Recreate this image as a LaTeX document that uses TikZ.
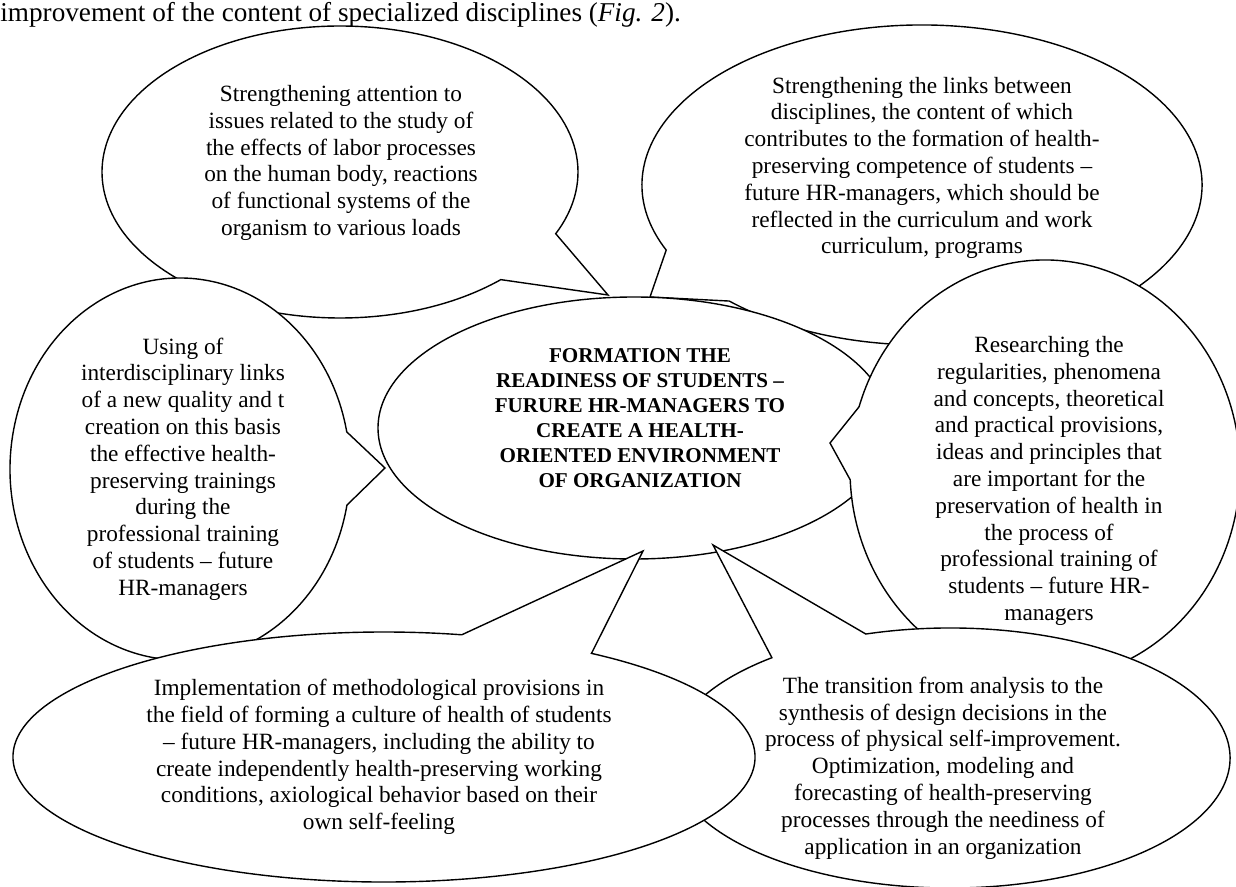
\documentclass[tikz,border=0pt]{standalone}
\usepackage{fontspec}
\setmainfont{Liberation Serif}
\usepackage{tikz}

\begin{document}
\begin{tikzpicture}[x=0.5pt, y=-0.5pt,
  bubble/.style={draw, fill=white, line width=0.7pt},
  txt/.style={align=center, inner sep=0pt, font=\fontsize{11.65}{13.4}\selectfont},
  headtxt/.style={align=center, inner sep=0pt, font=\fontsize{10.55}{12.5}\selectfont\bfseries}]

\useasboundingbox (0,0) rectangle (1236,887);

\node[anchor=base west, inner sep=0pt, font=\fontsize{13.6}{16}\selectfont] (caption) at (0,22)
  {improvement of the content of specialized disciplines (\textit{Fig. 2}).};

% top left
\coordinate (tlC) at (340,172);
\coordinate (tlTip) at (608,295);
\draw[bubble] (tlC) ++(47.5:238 and 146) arc[start angle=47.5, end angle=385, x radius=238, y radius=146] -- (tlTip) -- cycle;
\node[txt] (tlText) at (341,163) {Strengthening attention to\\issues related to the study of\\the effects of labor processes\\on the human body, reactions\\of functional systems of the\\organism to various loads};

% left
\coordinate (lC) at (180,469);
\coordinate (lTip) at (385,468);
\draw[bubble] (lC) ++(10.9:170 and 191) arc[start angle=10.9, end angle=348.8, x radius=170, y radius=191] -- (lTip) -- cycle;
\node[txt] (lText) at (183,469) {Using of\\interdisciplinary links\\of a new quality and t\\creation on this basis\\the effective health-\\preserving trainings\\during the\\professional training\\of students -- future\\HR-managers};

% top right
\coordinate (trC) at (922,185);
\coordinate (trTip) at (650,297);
\draw[bubble] (trC) ++(156:280 and 160) arc[start angle=156, end angle=493.5, x radius=280, y radius=160] -- (trTip) -- cycle;
\node[txt] (trText) at (922,168) {Strengthening the links between\\disciplines, the content of which\\contributes to the formation of health-\\preserving competence of students --\\future HR-managers, which should be\\reflected in the curriculum and work\\curriculum, programs};

% centre
\coordinate (cC) at (634,428);
\draw[bubble] (cC) ellipse[x radius=256, y radius=131];
\node[headtxt] (cText) at (640,418) {FORMATION THE\\READINESS OF STUDENTS --\\FURURE HR-MANAGERS TO\\CREATE A HEALTH-\\ORIENTED ENVIRONMENT\\OF ORGANIZATION};

% right
\coordinate (rC) at (1045,470);
\coordinate (rTip) at (830,443);
\draw[bubble] (rC) ++(197.5:195 and 210) arc[start angle=197.5, end angle=537.3, x radius=195, y radius=210] -- (rTip) -- cycle;
\node[txt] (rText) at (1049,481) {Researching the\\regularities, phenomena\\and concepts, theoretical\\and practical provisions,\\ideas and principles that\\are important for the\\preservation of health in\\the process of\\professional training of\\students -- future HR-\\managers};

% bottom right
\coordinate (brC) at (950,758);
\coordinate (brTip) at (713,545);
\draw[bubble] (brC) ++(252.5:280 and 130) arc[start angle=252.5, end angle=590.5, x radius=280, y radius=130] -- (brTip) -- cycle;
\node[txt] (brText) at (943,768) {The transition from analysis to the\\synthesis of design decisions in the\\process of physical self-improvement.\\Optimization, modeling and\\forecasting of health-preserving\\processes through the neediness of\\application in an organization};

% bottom left
\coordinate (blC) at (384,757);
\coordinate (blTip) at (643,551);
\draw[bubble] (blC) ++(-56:371 and 125) arc[start angle=-56, end angle=282.1, x radius=371, y radius=125] -- (blTip) -- cycle;
\node[txt] (blText) at (379,757) {Implementation of methodological provisions in\\the field of forming a culture of health of students\\-- future HR-managers, including the ability to\\create independently health-preserving working\\conditions, axiological behavior based on their\\own self-feeling};

\end{tikzpicture}
\end{document}
